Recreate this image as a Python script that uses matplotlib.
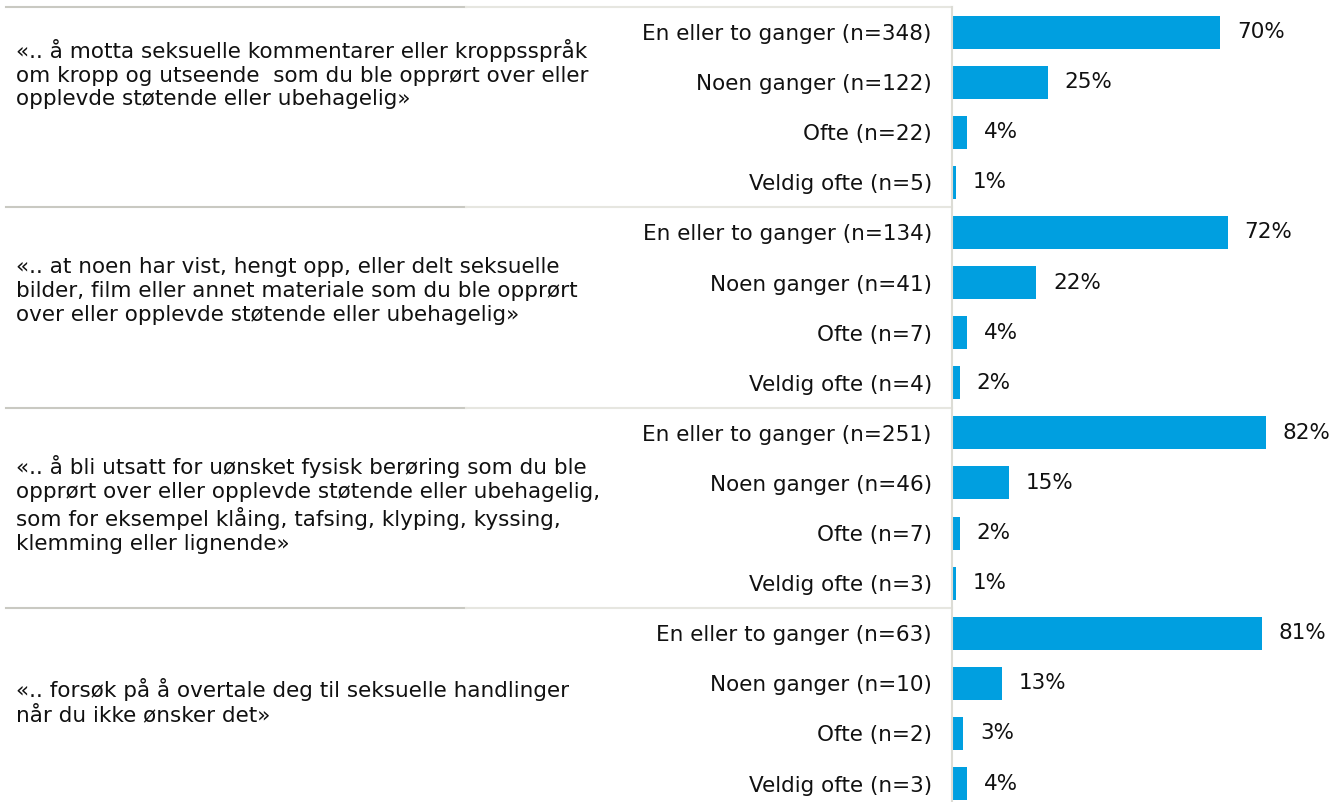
import matplotlib
matplotlib.use("Agg")
import matplotlib.pyplot as plt
import matplotlib.transforms as mtransforms

# Data
questions = [
    "«.. å motta seksuelle kommentarer eller kroppsspråk\nom kropp og utseende  som du ble opprørt over eller\nopplevde støtende eller ubehagelig»",
    "«.. at noen har vist, hengt opp, eller delt seksuelle\nbilder, film eller annet materiale som du ble opprørt\nover eller opplevde støtende eller ubehagelig»",
    "«.. å bli utsatt for uønsket fysisk berøring som du ble\nopprørt over eller opplevde støtende eller ubehagelig,\nsom for eksempel klåing, tafsing, klyping, kyssing,\nklemming eller lignende»",
    "«.. forsøk på å overtale deg til seksuelle handlinger\nnår du ikke ønsker det»",
]
frequencies = ["En eller to ganger", "Noen ganger", "Ofte", "Veldig ofte"]
counts = [
    [348, 122, 22, 5],
    [134, 41, 7, 4],
    [251, 46, 7, 3],
    [63, 10, 2, 3],
]
percents = [
    [70, 25, 4, 1],
    [72, 22, 4, 2],
    [82, 15, 2, 1],
    [81, 13, 3, 4],
]
# vertical centre of each question text, in row units
question_pos = [0.84, 5.17, 9.43, 13.37]

BAR_COLOR = "#009fe0"
AXIS_COLOR = "#dcdcd5"
FS = 15.5

labels, values = [], []
for cnt, pct in zip(counts, percents):
    for f, n, p in zip(frequencies, cnt, pct):
        labels.append(f"{f} (n={n})")
        values.append(p)
rows = list(range(len(values)))

W, H = 1335, 802
fig = plt.figure(figsize=(W / 100, H / 100), dpi=100)
ax = fig.add_axes([952 / W, 0, 1 - 952 / W, 1 - 7 / H])

ax.barh(rows, values, height=0.66, color=BAR_COLOR)
ax.set_xlim(0, 100)
ax.set_ylim(-0.5 + (H - 7) / 50.1, -0.5)

for r, v in zip(rows, values):
    ax.annotate(f"{v}%", xy=(v, r), xytext=(12, 0), textcoords="offset points",
                va="center", ha="left", fontsize=FS, color="#111111")

ax.set_yticks(rows)
ax.set_yticklabels(labels, fontsize=FS, color="#111111")
ax.tick_params(axis="y", length=0, pad=14.5)
ax.set_xticks([])
for s in ["top", "right", "bottom"]:
    ax.spines[s].set_visible(False)
ax.spines["left"].set_color(AXIS_COLOR)
ax.spines["left"].set_linewidth(1.5)

# group separators and question texts
trans = mtransforms.blended_transform_factory(fig.transFigure, ax.transData)
for g in range(len(questions)):
    y = g * 4 - 0.5
    ax.plot([6 / W, 466 / W], [y, y], transform=trans, clip_on=False,
            color="#c9c9c2", linewidth=1.5)
    ax.plot([466 / W, 952 / W], [y, y], transform=trans, clip_on=False,
            color="#e6e6e0", linewidth=1.5)
    ax.text(16 / W, question_pos[g], questions[g], transform=trans,
            ha="left", va="center", fontsize=FS, color="#111111",
            linespacing=1.24)

plt.savefig("out.png", dpi=100)
